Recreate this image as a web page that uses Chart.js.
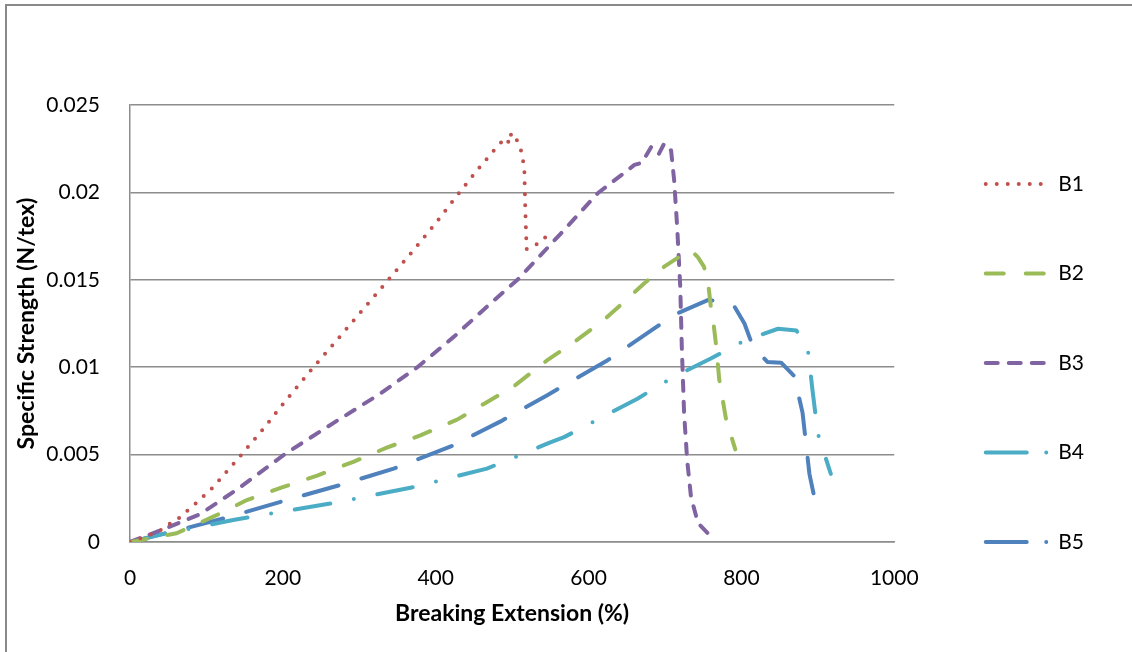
<!DOCTYPE html>
<html>
<head>
<meta charset="utf-8">
<style>
    html, body { margin: 0; padding: 0; background: #fff; overflow: hidden; }
    #frame { position: absolute; left: 5px; top: 4px; width: 1200px; height: 700px;
             border-left: 2px solid #898989; border-top: 2px solid #898989; }
    #wrap { position: absolute; left: 0; top: 0; width: 1132px; height: 652px; }
</style>
</head>
<body>
<div id="frame"></div>
<div id="wrap"><canvas id="strengthChart" width="1132" height="652"></canvas></div>

<script src="https://cdn.jsdelivr.net/npm/chart.js"></script>
<script>
    // values
    const seriesNames = ['B1', 'B2', 'B3', 'B4', 'B5'];

    const b1X = [0, 26, 41, 54, 65, 87, 108, 138, 175, 202, 240, 269, 297, 335, 373, 401, 428, 456, 484, 493, 496, 499, 505, 511, 514, 516, 517, 518, 519, 528, 540, 550];
    const b1Y = [0, 0.0004, 0.0007, 0.0011, 0.0014, 0.00225, 0.0031, 0.0046, 0.0065, 0.0080, 0.0100, 0.01146, 0.0129, 0.01484, 0.0168, 0.0183, 0.01983, 0.02136, 0.0228, 0.0231, 0.0228, 0.0234, 0.0231, 0.02252, 0.0219, 0.0213, 0.0194, 0.0180, 0.01676, 0.0169, 0.01728, 0.01773];

    const b2X = [0, 61, 114, 153, 197, 245, 293, 336, 380, 428, 463, 502, 546, 585, 620, 642, 673, 699, 725, 734, 743, 751, 756, 760, 762, 767, 771, 780, 792];
    const b2Y = [0, 0.0005, 0.00155, 0.0024, 0.0031, 0.0038, 0.0046, 0.0054, 0.0061, 0.0070, 0.0079, 0.0089, 0.0104, 0.01156, 0.0127, 0.01356, 0.0148, 0.01575, 0.0165, 0.0167, 0.0163, 0.01575, 0.0150, 0.01346, 0.0131, 0.0112, 0.0093, 0.0070, 0.0053];

    const b3X = [0, 48, 92, 140, 205, 266, 328, 376, 424, 472, 507, 564, 612, 660, 670, 682, 692, 699, 708, 712, 716, 720, 722, 725, 729, 734, 743, 756];
    const b3Y = [0, 0.0008, 0.0016, 0.0030, 0.0051, 0.0068, 0.0085, 0.0100, 0.01175, 0.01366, 0.0150, 0.01766, 0.01995, 0.02157, 0.0217, 0.0226, 0.0222, 0.0228, 0.0224, 0.0207, 0.0180, 0.0146, 0.0112, 0.0074, 0.0047, 0.0026, 0.0011, 0.0005];

    const b4X = [0, 48, 135, 262, 367, 467, 495, 550, 568, 664, 712, 760, 804, 848, 872, 887, 893, 900, 917];
    const b4Y = [0, 0.0005, 0.00126, 0.0022, 0.0031, 0.0042, 0.0047, 0.0057, 0.0060, 0.0082, 0.00946, 0.0105, 0.01152, 0.0122, 0.0121, 0.0110, 0.0087, 0.0062, 0.0039];

    const b5X = [0, 74, 127, 197, 275, 345, 419, 485, 546, 625, 686, 712, 756, 778, 791, 804, 815, 834, 852, 869, 880, 889, 900];
    const b5Y = [0, 0.0008, 0.0014, 0.0023, 0.00326, 0.0042, 0.00545, 0.0069, 0.0084, 0.0104, 0.01222, 0.0130, 0.01384, 0.01375, 0.01346, 0.0125, 0.0112, 0.0103, 0.01026, 0.0095, 0.0074, 0.0039, 0.0016];

    const xTicks = [0, 200, 400, 600, 800, 1000];
    const yTicks = [0, 0.005, 0.01, 0.015, 0.02, 0.025];
    const yTickLabels = ['0', '0.005', '0.01', '0.015', '0.02', '0.025'];

    const colors = ['#C0504D', '#9BBB59', '#8064A2', '#4BACC6', '#4F81BD'];
    const dashes = [[0, 11], [17, 21], [10, 11], [36, 24, 0, 24], [36, 24]];
    const legendDashes = [[0, 11], [18, 22], [12, 11], [41, 19.5, 0, 19.5], [41, 19.5, 0, 19.5]];

    const allX = [b1X, b2X, b3X, b4X, b5X];
    const allY = [b1Y, b2Y, b3Y, b4Y, b5Y];

    function toPoints(xs, ys) {
        return xs.map((x, i) => ({x: x, y: ys[i]}));
    }

    const datasets = seriesNames.map((name, i) => ({
        label: name,
        data: toPoints(allX[i], allY[i]),
        borderColor: colors[i],
        backgroundColor: colors[i],
        borderWidth: 4,
        borderDash: dashes[i],
        borderCapStyle: 'round',
        borderJoinStyle: 'round',
        pointRadius: 0,
        pointHoverRadius: 0,
        tension: 0,
        fill: false
    }));

    const gridGray = '#8c8c8c';
    const fontFamily = 'Lato, "Open Sans", sans-serif';

    const ctx = document.getElementById('strengthChart').getContext('2d');
    new Chart(ctx, {
        type: 'line',
        data: {datasets: datasets},
        options: {
            responsive: false,
            animation: false,
            layout: {padding: {left: 8, top: 105, right: 38, bottom: 20}},
            plugins: {
                tooltip: {enabled: false},
                legend: {
                    position: 'right',
                    align: 'start',
                    labels: {
                        usePointStyle: true,
                        pointStyle: 'line',
                        pointStyleWidth: 62,
                        padding: 68.5,
                        color: '#000',
                        font: {family: fontFamily, size: 21},
                        generateLabels: function (chart) {
                            const items = Chart.defaults.plugins.legend.labels.generateLabels(chart);
                            items.forEach((item, i) => {
                                item.lineDash = legendDashes[i];
                                item.lineCap = 'round';
                                item.lineWidth = 4;
                            });
                            return items;
                        }
                    }
                }
            },
            scales: {
                x: {
                    type: 'linear',
                    min: 0,
                    max: 1000,
                    afterFit: function (scale) { scale.height = 90; },
                    afterBuildTicks: function (scale) { scale.ticks = xTicks.map(v => ({value: v})); },
                    grid: {display: false},
                    border: {display: true, color: gridGray, width: 1.5},
                    ticks: {
                        padding: 16,
                        color: '#000',
                        font: {family: fontFamily, size: 21},
                        maxRotation: 0,
                        callback: v => String(v)
                    },
                    title: {
                        display: true,
                        text: 'Breaking Extension (%)',
                        color: '#000',
                        font: {family: fontFamily, size: 23, weight: 'bold'},
                        padding: {top: 4, bottom: 5}
                    }
                },
                y: {
                    type: 'linear',
                    min: 0,
                    max: 0.025,
                    afterFit: function (scale) { scale.width = 122; },
                    afterBuildTicks: function (scale) { scale.ticks = yTicks.map(v => ({value: v})); },
                    grid: {display: true, color: gridGray, lineWidth: 1.5, drawTicks: false},
                    border: {display: true, color: gridGray, width: 1.5},
                    ticks: {
                        padding: 30,
                        color: '#000',
                        font: {family: fontFamily, size: 21},
                        callback: function (v) {
                            const k = yTicks.indexOf(v);
                            return k >= 0 ? yTickLabels[k] : '';
                        }
                    },
                    title: {
                        display: true,
                        text: 'Specific Strength (N/tex)',
                        color: '#000',
                        font: {family: fontFamily, size: 23, weight: 'bold'},
                        padding: {top: 5, bottom: 4}
                    }
                },
                // empty spacer between the plot and the legend
                gap: {
                    type: 'linear',
                    position: 'right',
                    display: true,
                    afterFit: function (scale) { scale.width = 23; },
                    grid: {display: false},
                    border: {display: false},
                    ticks: {display: false}
                }
            }
        }
    });
</script>
</body>
</html>
